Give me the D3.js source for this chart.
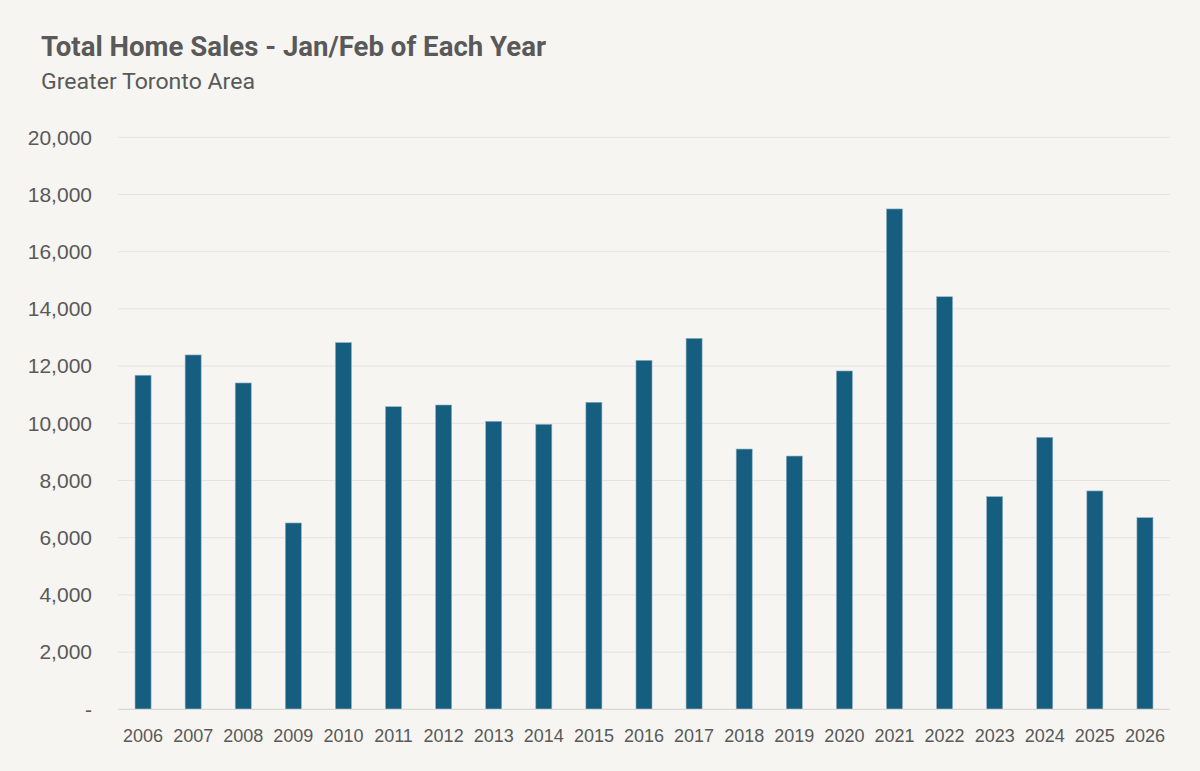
<!DOCTYPE html>
<html>
<head>
<meta charset="utf-8">
<script src="https://cdn.jsdelivr.net/npm/d3@7"></script>
<style>
  html, body { margin: 0; padding: 0; background: #f6f5f2; }
  svg { display: block; }
</style>
</head>
<body>
<svg id="chart" width="1200" height="771"></svg>
<script>
const years = ["2006","2007","2008","2009","2010","2011","2012","2013","2014","2015","2016","2017","2018","2019","2020","2021","2022","2023","2024","2025","2026"];
const sales = [11680, 12390, 11410, 6515, 12820, 10580, 10640, 10070, 9965, 10735, 12200, 12970, 9100, 8855, 11830, 17495, 14425, 7435, 9510, 7635, 6700];
const yTicks = [0, 2000, 4000, 6000, 8000, 10000, 12000, 14000, 16000, 18000, 20000];
const titleText = "Total Home Sales - Jan/Feb of Each Year";
const subtitleText = "Greater Toronto Area";

const svg = d3.select("#chart");
const W = 1200, H = 771;
svg.append("rect").attr("width", W).attr("height", H).attr("fill", "#f6f5f2");

const m = { left: 118, right: 1170, top: 137.3, bottom: 709.3 };

const x = d3.scaleBand().domain(years).range([m.left, m.right]).paddingInner(0.68).paddingOuter(0.34);
const y = d3.scaleLinear().domain([0, 20000]).range([m.bottom, m.top]);

// gridlines
svg.append("g")
  .selectAll("line").data(yTicks.filter(d => d > 0)).join("line")
  .attr("x1", m.left).attr("x2", m.right)
  .attr("y1", d => y(d)).attr("y2", d => y(d))
  .attr("stroke", "#e5e3df").attr("stroke-width", 1);

// bars
svg.append("g")
  .selectAll("rect").data(sales).join("rect")
  .attr("x", (d, i) => x(years[i]))
  .attr("width", x.bandwidth())
  .attr("y", d => y(d))
  .attr("height", d => y(0) - y(d))
  .attr("fill", "#165e80")
  .attr("stroke", "#8fb0c2").attr("stroke-width", 0.6);

// baseline
svg.append("line")
  .attr("x1", m.left).attr("x2", m.right)
  .attr("y1", y(0)).attr("y2", y(0))
  .attr("stroke", "#d9d8d4").attr("stroke-width", 1.2);

// y axis
const fmt = d => d === 0 ? "-" : d3.format(",")(d);
const yAxis = d3.axisLeft(y).tickValues(yTicks).tickFormat(fmt).tickSize(0).tickPadding(26);
const gy = svg.append("g").attr("transform", `translate(${m.left},0)`).call(yAxis);
gy.select(".domain").remove();
gy.selectAll("text")
  .attr("fill", "#595959")
  .style("font-family", "'Liberation Sans', Arial, sans-serif")
  .style("font-size", "21px");

// x axis
const xAxis = d3.axisBottom(x).tickSize(0).tickPadding(20);
const gx = svg.append("g").attr("transform", `translate(0,${m.bottom})`).call(xAxis);
gx.select(".domain").remove();
gx.selectAll("text")
  .attr("fill", "#595959")
  .style("font-family", "'Liberation Sans', Arial, sans-serif")
  .style("font-size", "18px");

// title
const t = svg.append("text")
  .attr("x", 41).attr("y", 55.5)
  .attr("fill", "#595959")
  .style("font-family", "Roboto, 'Noto Sans', sans-serif")
  .style("font-weight", "700")
  .style("font-size", "28px")
  .text(titleText);
t.attr("textLength", 505).attr("lengthAdjust", "spacingAndGlyphs");

const st = svg.append("text")
  .attr("x", 41).attr("y", 88.5)
  .attr("fill", "#595959")
  .style("font-family", "Roboto, 'Noto Sans', sans-serif")
  .style("font-weight", "400")
  .style("font-size", "22px")
  .text(subtitleText);
st.attr("textLength", 214).attr("lengthAdjust", "spacingAndGlyphs");
</script>
</body>
</html>
